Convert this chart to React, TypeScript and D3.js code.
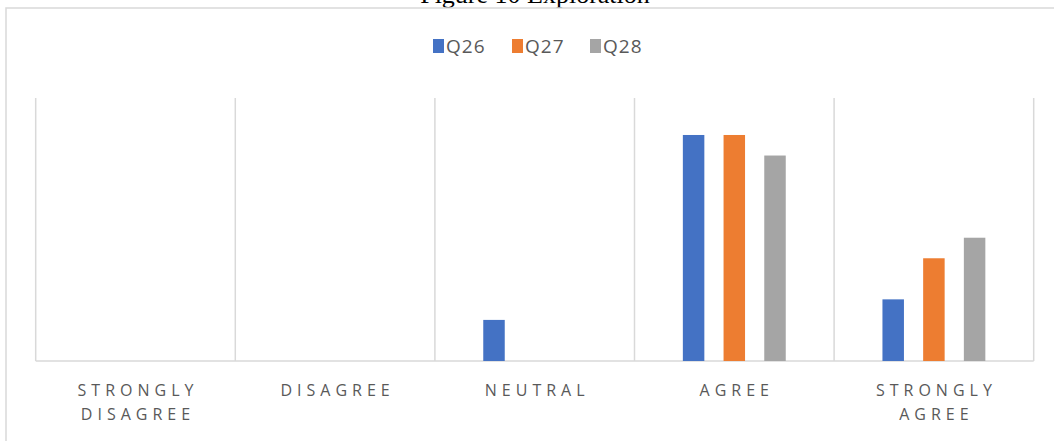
import React from "react";
import * as d3 from "d3";

const categories: string[][] = [
  ["STRONGLY", "DISAGREE"],
  ["DISAGREE"],
  ["NEUTRAL"],
  ["AGREE"],
  ["STRONGLY", "AGREE"],
];
const categoryKeys = ["Strongly Disagree", "Disagree", "Neutral", "Agree", "Strongly Agree"];
const seriesNames = ["Q26", "Q27", "Q28"];
const seriesColors = ["#4472C4", "#ED7D31", "#A5A5A5"];
const q26 = [0, 0, 2, 11, 3];
const q27 = [0, 0, 0, 11, 5];
const q28 = [0, 0, 0, 10, 6];
const seriesValues = [q26, q27, q28];
const yMax = 12.8;

const W = 1054;
const H = 441;
const plotLeft = 35.7;
const plotRight = 1033.7;
const plotTop = 98;
const plotBottom = 361;

export default function App() {
  const x0 = d3.scaleBand<string>().domain(categoryKeys).range([plotLeft, plotRight]).padding(0);
  const x1 = d3
    .scaleBand<string>()
    .domain(seriesNames)
    .range([0, x0.bandwidth()])
    .paddingInner(0.472)
    .paddingOuter(1.188);
  const y = d3.scaleLinear().domain([0, yMax]).range([plotBottom, plotTop]);

  const gridXs = [...categoryKeys.map((c) => x0(c) as number), plotRight];
  const textColor = "#595959";
  const font = "'Open Sans', 'Noto Sans', sans-serif";
  const labelSpacing = 5;

  const legendItems = [
    { x: 433, tx: 446 },
    { x: 512, tx: 525 },
    { x: 590, tx: 603 },
  ];

  return (
    <svg
      width={W}
      height={H}
      style={{ position: "absolute", left: 0, top: 0, background: "#fff" }}
    >
      <rect x={0} y={0} width={W} height={H} fill="#fff" />
      <text
        x={535}
        y={3}
        textAnchor="middle"
        fontFamily="'Liberation Serif', 'Times New Roman', serif"
        fontSize={26}
        fill="#000"
      >
        Figure 10 Exploration
      </text>
      {/* chart border */}
      <rect x={6} y={8} width={1060} height={460} fill="none" stroke="#D9D9D9" strokeWidth={1.5} />

      {/* legend */}
      {seriesNames.map((s, i) => (
        <g key={s}>
          <rect x={legendItems[i].x} y={39} width={11} height={14} fill={seriesColors[i]} />
          <text
            x={legendItems[i].tx}
            y={53}
            fontFamily={font}
            fontSize={19}
            letterSpacing={1}
            fill={textColor}
          >
            {s}
          </text>
        </g>
      ))}

      {/* vertical gridlines */}
      {gridXs.map((gx, i) => (
        <line key={i} x1={gx} x2={gx} y1={plotTop} y2={plotBottom} stroke="#D9D9D9" strokeWidth={1.5} />
      ))}
      {/* baseline */}
      <line x1={plotLeft} x2={plotRight} y1={plotBottom} y2={plotBottom} stroke="#D9D9D9" strokeWidth={1.5} />

      {/* bars */}
      {categoryKeys.map((c, ci) => (
        <g key={c} transform={`translate(${x0(c)},0)`}>
          {seriesNames.map((s, si) => {
            const v = seriesValues[si][ci];
            if (!v) return null;
            return (
              <rect
                key={s}
                x={x1(s)}
                y={y(v)}
                width={x1.bandwidth()}
                height={plotBottom - y(v)}
                fill={seriesColors[si]}
              />
            );
          })}
        </g>
      ))}

      {/* category labels */}
      {categoryKeys.map((c, ci) => {
        const cx = (x0(c) as number) + x0.bandwidth() / 2 + labelSpacing / 2;
        return (
          <text
            key={c}
            textAnchor="middle"
            fontFamily={font}
            fontSize={16}
            letterSpacing={labelSpacing}
            fill={textColor}
          >
            {categories[ci].map((line, li) => (
              <tspan key={li} x={cx} y={396 + li * 24}>
                {line}
              </tspan>
            ))}
          </text>
        );
      })}
    </svg>
  );
}
